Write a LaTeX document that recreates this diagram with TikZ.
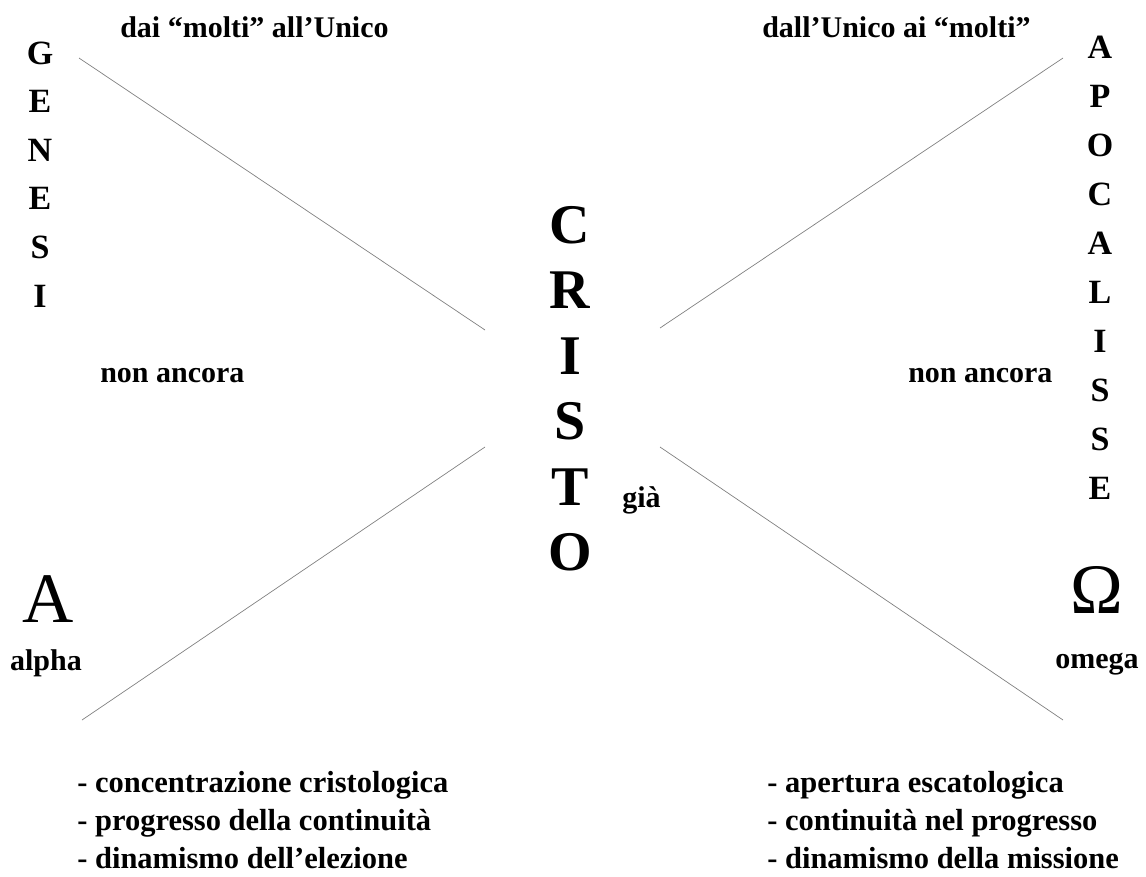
\documentclass[tikz,border=0pt]{standalone}
\usepackage{fontspec}
\setmainfont{Liberation Serif}
\usetikzlibrary{positioning}

\begin{document}
\begin{tikzpicture}[x=1pt,y=-1pt,inner sep=0pt,semithick]
    \tikzstyle{ray}=[draw=gray, line width=0.7pt]
    \tikzstyle{capital}=[font=\fontsize{34}{34}\selectfont\bfseries, anchor=base]
    \tikzstyle{bigcapital}=[font=\fontsize{56}{56}\selectfont\bfseries, anchor=base]
    \tikzstyle{tag}=[font=\fontsize{30}{32}\selectfont\bfseries, anchor=base west]
    \tikzstyle{greek}=[font=\fontsize{71}{71}\selectfont, anchor=base]
    \tikzstyle{listline}=[font=\fontsize{30.5}{34}\selectfont\bfseries, anchor=base west]

    \useasboundingbox (0,0) rectangle (1146,876);

    % the cross
    \coordinate (tl) at (79,58);
    \coordinate (tl-c) at (485,330);
    \coordinate (tr) at (1063,58);
    \coordinate (tr-c) at (660,328);
    \coordinate (bl) at (82,720);
    \coordinate (bl-c) at (485,447);
    \coordinate (br) at (1063,720);
    \coordinate (br-c) at (660,447);
    \draw[ray] (tl) -- (tl-c);
    \draw[ray] (tr) -- (tr-c);
    \draw[ray] (bl) -- (bl-c);
    \draw[ray] (br) -- (br-c);

    % vertical words
    \foreach \ch [count=\i from 0] in {G,E,N,E,S,I}
        \node[capital] (genesi-\i) at (40,64+48.6*\i) {\ch};
    \foreach \ch [count=\i from 0] in {A,P,O,C,A,L,I,S,S,E}
        \node[capital] (apoc-\i) at (1100,58+49*\i) {\ch};
    \foreach \ch [count=\i from 0] in {C,R,I,S,T,O}
        \node[bigcapital] (cristo-\i) at (570,243+65.5*\i) {\ch};

    % labels
    \node[tag] (molti-unico) at (120,37) {dai “molti” all’Unico};
    \node[tag] (unico-molti) at (762,37) {dall’Unico ai “molti”};
    \node[tag] (ancora-l) at (100,382) {non ancora};
    \node[tag] (ancora-r) at (908,382) {non ancora};
    \node[tag] (gia) at (622,507) {già};

    \node[greek] (alpha) at (48,622) {A};
    \node[tag, anchor=base] (alpha-txt) at (46,670) {alpha};
    \node[greek] (omega) at (1097,613) {Ω};
    \node[tag, anchor=base] (omega-txt) at (1097,668) {omega};

    % lists
    \node[listline] (l1) at (77,792) {- concentrazione cristologica};
    \node[listline] (l2) at (77,830) {- progresso della continuità};
    \node[listline] (l3) at (77,868) {- dinamismo dell’elezione};
    \node[listline] (r1) at (767,792) {- apertura escatologica};
    \node[listline] (r2) at (767,830) {- continuità nel progresso};
    \node[listline] (r3) at (767,868) {- dinamismo della missione};
\end{tikzpicture}
\end{document}
